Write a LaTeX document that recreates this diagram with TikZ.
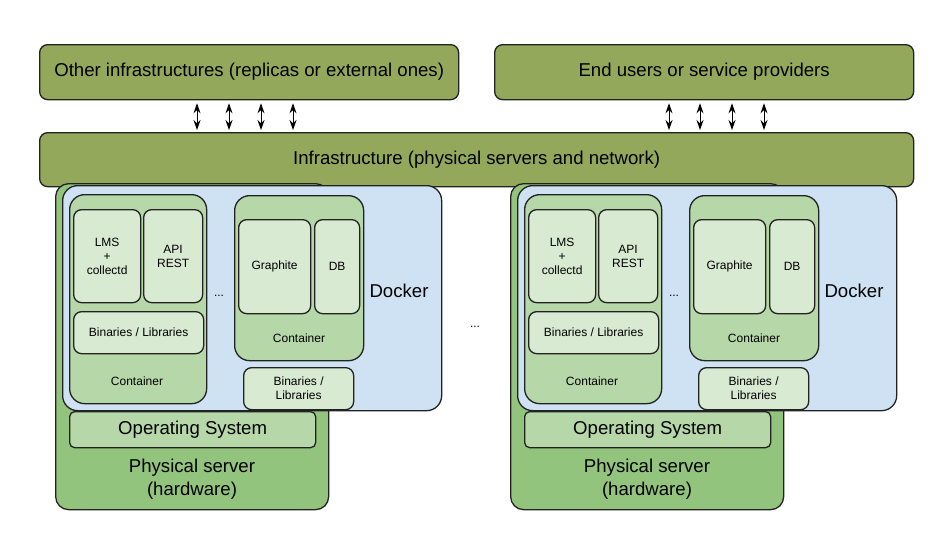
\documentclass[tikz,border=0pt]{standalone}
\usepackage{fontspec}
\setmainfont{Liberation Sans}
\usetikzlibrary{arrows.meta}
\definecolor{olive}{HTML}{93A85B}
\definecolor{hwgreen}{HTML}{93C47D}
\definecolor{contgreen}{HTML}{B6D7A8}
\definecolor{palegreen}{HTML}{D9EAD3}
\definecolor{dockblue}{HTML}{CFE2F3}
\definecolor{edge}{HTML}{222222}
\tikzset{
  box/.style={draw=edge, line width=1.3pt, anchor=north west, inner sep=0pt, align=center},
  bigtxt/.style={font=\fontsize{18.6}{23}\selectfont},
  smalltxt/.style={font=\fontsize{12}{14}\selectfont},
  topbox/.style={box, fill=olive, rounded corners=8pt, bigtxt},
  hwbox/.style={box, fill=hwgreen, rounded corners=13pt},
  dockbox/.style={box, fill=dockblue, rounded corners=15pt},
  contbox/.style={box, fill=contgreen, rounded corners=15pt},
  appbox/.style={box, fill=palegreen, rounded corners=8pt, smalltxt},
  osbox/.style={box, fill=contgreen, rounded corners=5pt, bigtxt},
  lbl/.style={inner sep=0pt, align=center},
  arr/.style={{Stealth[length=10pt,width=7pt]}-{Stealth[length=10pt,width=7pt]}, line width=1pt, shorten <=3pt, shorten >=2pt}
}
\newcommand\drawserver[1]{%
  \node[hwbox, minimum width=273pt, minimum height=326pt] (phys#1) at (55,183) {};
  \node[dockbox, minimum width=379pt, minimum height=225pt] (dock#1) at (62,185) {};
  \node[contbox, minimum width=137pt, minimum height=209pt] (conta#1) at (69,194) {};
  \node[appbox, minimum width=67pt, minimum height=93pt] (lms#1) at (73,209) {LMS\\+\\collectd};
  \node[appbox, minimum width=59pt, minimum height=93pt] (api#1) at (143,209) {API\\REST};
  \node[appbox, minimum width=130pt, minimum height=42pt] (bina#1) at (73,311) {Binaries / Libraries};
  \node[lbl, smalltxt] (contalbl#1) at (137,381) {Container};
  \node[contbox, minimum width=129pt, minimum height=165pt] (contb#1) at (234,195) {};
  \node[appbox, minimum width=72pt, minimum height=94pt] (graph#1) at (238,219) {Graphite};
  \node[appbox, minimum width=45pt, minimum height=94pt] (db#1) at (314,219) {DB};
  \node[lbl, smalltxt] (contblbl#1) at (299,338) {Container};
  \node[appbox, minimum width=110pt, minimum height=42pt] (binb#1) at (243,367) {Binaries /\\Libraries};
  \node[lbl, smalltxt] (dots#1) at (219,296) {...};
  \node[lbl, bigtxt] (docklbl#1) at (399,291) {Docker};
  \node[osbox, minimum width=246pt, minimum height=36pt] (os#1) at (69,411) {Operating System};
  \node[lbl, bigtxt] (physlbl#1) at (192,479) {Physical server\\(hardware)};
}
\begin{document}
\begin{tikzpicture}[x=1pt,y=-1pt]
\useasboundingbox[fill=white] (0,0) rectangle (949,550);
\node[topbox, minimum width=419pt, minimum height=55pt] (other) at (39,44) {Other infrastructures (replicas or external ones)};
\node[topbox, minimum width=419pt, minimum height=55pt] (users) at (494,44) {End users or service providers};
\node[topbox, minimum width=874pt, minimum height=54pt] (infra) at (39,132) {Infrastructure (physical servers and network)};
\foreach \x in {197,229,261,293,669,700,732,764}{
  \ifnum\x<480
    \draw[arr] (other.south -| \x,0) -- (infra.north -| \x,0);
  \else
    \draw[arr] (users.south -| \x,0) -- (infra.north -| \x,0);
  \fi
}
\drawserver{L}
\begin{scope}[xshift=455pt]
\drawserver{R}
\end{scope}
\node[lbl, smalltxt] (middots) at (475,327) {...};
\end{tikzpicture}
\end{document}
